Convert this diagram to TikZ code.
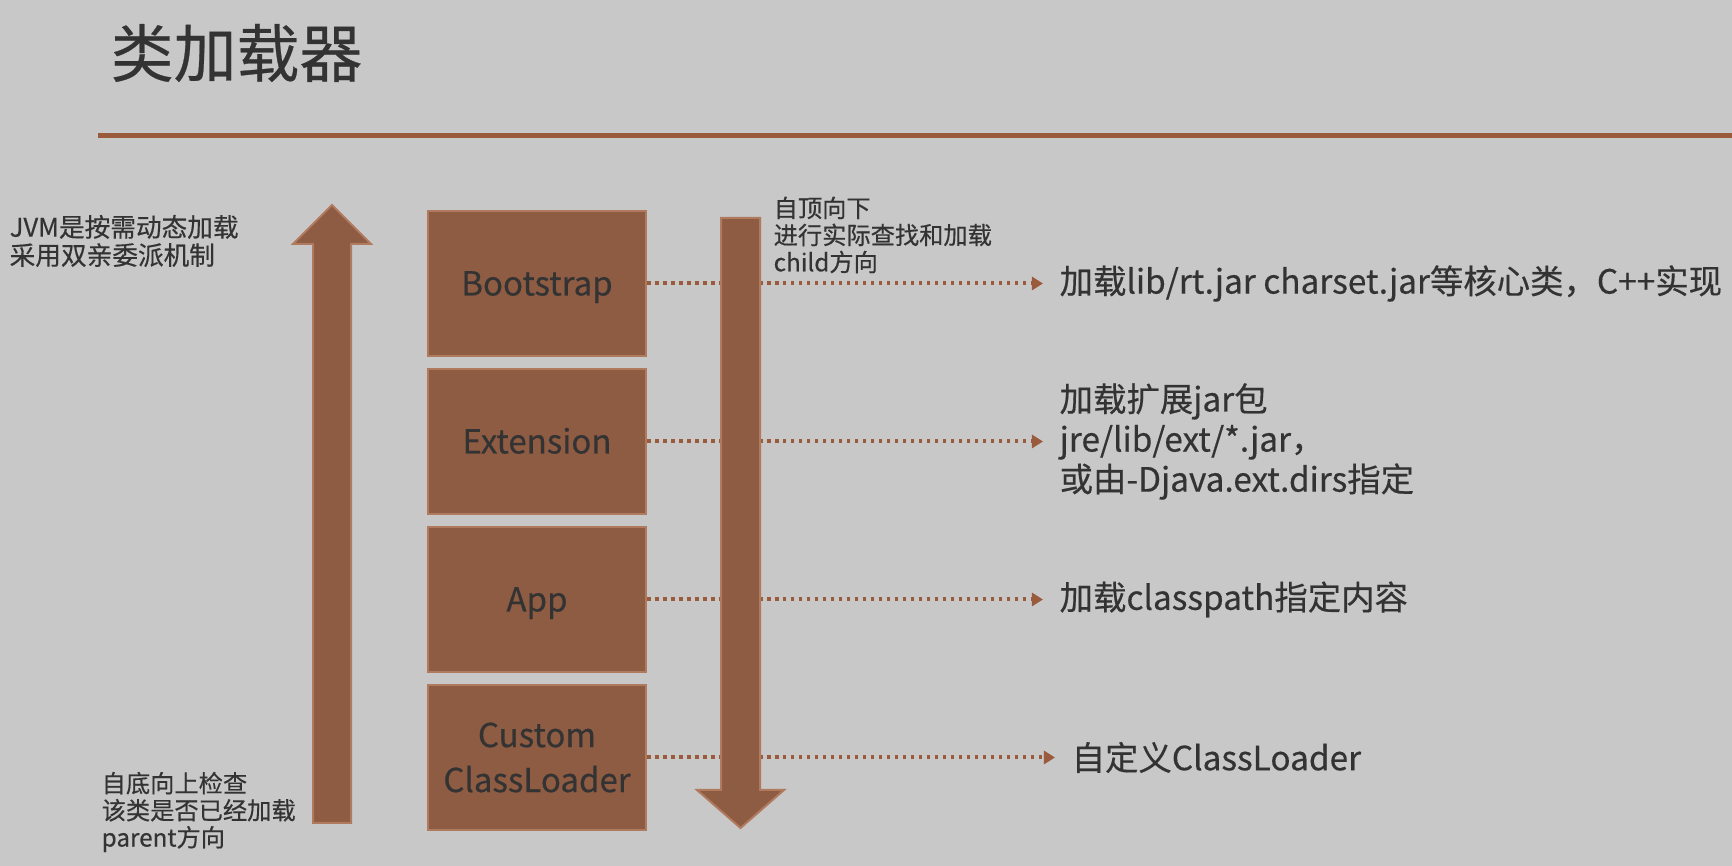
\documentclass[tikz,border=0pt]{standalone}
\usepackage{fontspec}
\setmainfont{Noto Sans CJK SC}[FakeBold=0.4]
\usepackage{tikz}
\usetikzlibrary{positioning, arrows.meta}
\definecolor{cbg}{HTML}{C8C8C8}
\definecolor{cbrown}{HTML}{8E5B43}
\definecolor{cedge}{HTML}{B07A5E}
\definecolor{cdot}{HTML}{9A5A3C}
\definecolor{ctext}{HTML}{333333}
\tikzset{
  ldr/.style={draw=cedge, line width=0.2mm, fill=cbrown, text=ctext, align=center,
              minimum width=21.8mm, minimum height=14.5mm,
              font=\fontsize{9.4}{12.8}\selectfont},
  ldr1/.style={ldr, text height=8.7pt, text depth=1.9pt},
  note/.style={text=ctext, align=left, inner sep=0pt, anchor=west,
               font=\fontsize{9.5}{11.4}\selectfont},
  hint/.style={text=ctext, align=left, inner sep=0pt, anchor=west,
               font=\fontsize{6.9}{7.7}\selectfont},
  dl/.style={cdot, line width=0.4mm, dash pattern=on 0.35mm off 0.45mm,
             -{Triangle[length=1.1mm, width=1.3mm]}, shorten >=1.6mm},
  bigarr/.style={fill=cbrown, draw=cedge, line width=0.2mm},
}

\begin{document}
\begin{tikzpicture}[x=0.1mm, y=-0.1mm]
  \useasboundingbox (0,0) rectangle (1732,866);
  \fill[cbg] (0,0) rectangle (1732,866);
  % ---------- title ----------
  \node[text=ctext, anchor=west, inner sep=0pt, font=\fontsize{17.9}{20}\selectfont] (ttl) at (110,53) {类加载器};
  \draw[cdot, line width=0.5mm] (98,136) -- (1732,136);
  % ---------- loaders ----------
  \node[ldr1] (bs) at (537,283.5) {Bootstrap};
  \node[ldr1, below=1.1mm of bs] (ex) {Extension};
  \node[ldr1, below=1.1mm of ex] (ap) {App};
  \node[ldr, below=1.1mm of ap] (cu) {Custom\\ClassLoader};
  % ---------- what each one loads ----------
  \node[note, right=41.2mm of bs] (nbs) {加载lib/rt.jar charset.jar等核心类，C++实现};
  \node[note, right=41.2mm of ex] (nex) {加载扩展jar包\\jre/lib/ext/*.jar，\\或由-Djava.ext.dirs指定};
  \node[note, right=41.2mm of ap] (nap) {加载classpath指定内容};
  \node[note, right=42.4mm of cu] (ncu) {自定义ClassLoader};
  \draw[dl] (bs.east) -- (nbs.west);
  \draw[dl] (ex.east) -- (nex.west);
  \draw[dl] (ap.east) -- (nap.west);
  \draw[dl] (cu.east) -- (ncu.west);
  % ---------- directions ----------
  \draw[bigarr] (313,823) -- (313,244) -- (293,244) -- (332,205) -- (371,244) -- (351,244) -- (351,823) -- cycle;
  \draw[bigarr] (721,218) -- (760,218) -- (760,790) -- (784,790) -- (740.5,828) -- (697,790) -- (721,790) -- cycle;
  \node[hint, font=\fontsize{7.3}{8}\selectfont] (jvm) at (9,241) {JVM是按需动态加载\\采用双亲委派机制};
  \node[hint] (down) at (773,235) {自顶向下\\进行实际查找和加载\\child方向};
  \node[hint] (up) at (101,812) {自底向上检查\\该类是否已经加载\\parent方向};
\end{tikzpicture}
\end{document}
